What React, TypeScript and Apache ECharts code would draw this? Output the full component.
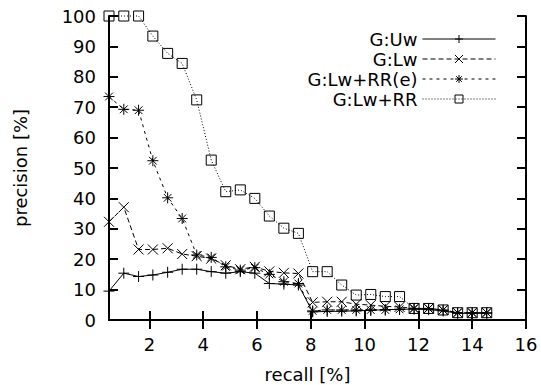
import React, { useEffect, useRef } from "react";
import * as echarts from "echarts";

const recall = [0.5, 1.05, 1.6, 2.13, 2.68, 3.22, 3.76, 4.3, 4.84, 5.38, 5.92, 6.46, 7.0, 7.54, 8.07, 8.61, 9.15, 9.69, 10.23, 10.77, 11.3, 11.84, 12.38, 12.92, 13.46, 14.0, 14.54];
const gUw = [9.5, 15.4, 14.3, 14.8, 15.7, 16.7, 16.7, 15.9, 15.4, 15.9, 15.4, 12.0, 11.8, 11.5, 2.7, 2.8, 2.9, 3.0, 3.2, 3.4, 3.5, 3.6, 3.4, 3.0, 2.2, 2.2, 2.2];
const gLw = [32.3, 37.1, 23.2, 23.2, 23.6, 21.7, 21.0, 20.2, 18.0, 16.7, 17.5, 16.0, 15.5, 15.3, 5.8, 6.0, 6.0, 5.2, 4.9, 4.5, 4.3, 3.8, 3.8, 3.3, 2.4, 2.4, 2.4];
const gLwRRe = [73.5, 69.3, 69.0, 52.4, 40.2, 33.4, 21.4, 20.6, 17.5, 16.4, 17.2, 15.0, 12.6, 12.0, 3.0, 3.3, 3.3, 3.3, 3.3, 3.3, 3.5, 3.8, 3.8, 3.3, 2.4, 2.4, 2.4];
const gLwRR = [100, 100, 100, 93.4, 87.7, 84.4, 72.4, 52.6, 42.2, 42.8, 40.0, 34.2, 30.2, 28.5, 15.9, 15.9, 11.5, 8.2, 8.4, 7.7, 7.7, 3.8, 3.8, 3.3, 2.4, 2.4, 2.4];
const seriesNames = ["G:Uw", "G:Lw", "G:Lw+RR(e)", "G:Lw+RR"];
const xTicks = [2, 4, 6, 8, 10, 12, 14, 16];

const FONT = "DejaVu Sans";

export default function App() {
  const ref = useRef<HTMLDivElement>(null);
  useEffect(() => {
    if (!ref.current) return;
    const chart = echarts.init(ref.current, null, { renderer: "svg" });
    const mk = (vals: number[]) => recall.map((r, i) => [r, vals[i]]);
    const symPlus = "path://M5,0L5,10M0,5L10,5";
    const symX = "path://M0,0L10,10M10,0L0,10";
    const symStar = "path://M5,0L5,10M0,5L10,5M1.5,1.5L8.5,8.5M8.5,1.5L1.5,8.5";
    const symSq = "path://M0,0L10,0L10,10L0,10Z";
    const base = (name: string, data: number[], symbol: string, size: number, dash: any) => ({
      name,
      type: "line",
      data: mk(data),
      symbol,
      symbolSize: size,
      showSymbol: true,
      clip: false,
      lineStyle: { color: "#000", width: 1, type: dash },
      itemStyle: { color: "none", borderColor: "#000", borderWidth: 1 },
      emphasis: { disabled: true },
    });
    const axisLine = { show: true, lineStyle: { color: "#000", width: 2 } };
    const tick = { show: true, inside: true, length: 9, lineStyle: { color: "#000", width: 2 } };
    const labelStyle = { color: "#000", fontFamily: FONT, fontSize: 18 };
    chart.setOption({
      animation: false,
      backgroundColor: "#fff",
      grid: { left: 109, right: 15, top: 16, bottom: 65, containLabel: false, outerBoundsMode: "none" },
      xAxis: [
        {
          type: "value", min: 0.5, max: 16, position: "bottom",
          axisLine, axisTick: { ...tick, customValues: xTicks },
          axisLabel: { ...labelStyle, margin: 15, customValues: xTicks },
          splitLine: { show: false },
          name: "recall [%]", nameLocation: "middle", nameGap: 45,
          nameTextStyle: { ...labelStyle, padding: [0, 20, 0, 0] },
        },
        {
          type: "value", min: 0.5, max: 16, position: "top",
          axisLine, axisTick: { ...tick, customValues: xTicks },
          axisLabel: { show: false }, splitLine: { show: false },
        },
      ],
      yAxis: [
        {
          type: "value", min: 0, max: 100, interval: 10, position: "left",
          axisLine, axisTick: tick,
          axisLabel: { ...labelStyle, margin: 13 },
          splitLine: { show: false },
          name: "precision [%]", nameLocation: "middle", nameGap: 80,
          nameTextStyle: labelStyle,
        },
        {
          type: "value", min: 0, max: 100, interval: 10, position: "right",
          axisLine, axisTick: tick,
          axisLabel: { show: false }, splitLine: { show: false },
        },
      ],
      legend: {
        data: seriesNames,
        orient: "vertical",
        align: "right",
        right: 40,
        top: 25,
        itemWidth: 73,
        itemHeight: 10,
        itemGap: 2,
        lineStyle: { width: 1 },
        itemStyle: { borderWidth: 1 },
        textStyle: { color: "#000", fontFamily: FONT, fontSize: 18 },
        selectedMode: false,
      },
      series: [
        base(seriesNames[0], gUw, symPlus, 11, "solid"),
        base(seriesNames[1], gLw, symX, 10, [5, 3]),
        base(seriesNames[2], gLwRRe, symStar, 11, [3, 4]),
        base(seriesNames[3], gLwRR, symSq, 10, [1, 2]),
      ],
    });
    return () => chart.dispose();
  }, []);
  return <div ref={ref} style={{ position: "fixed", left: 0, top: 0, width: 541, height: 385 }} />;
}
